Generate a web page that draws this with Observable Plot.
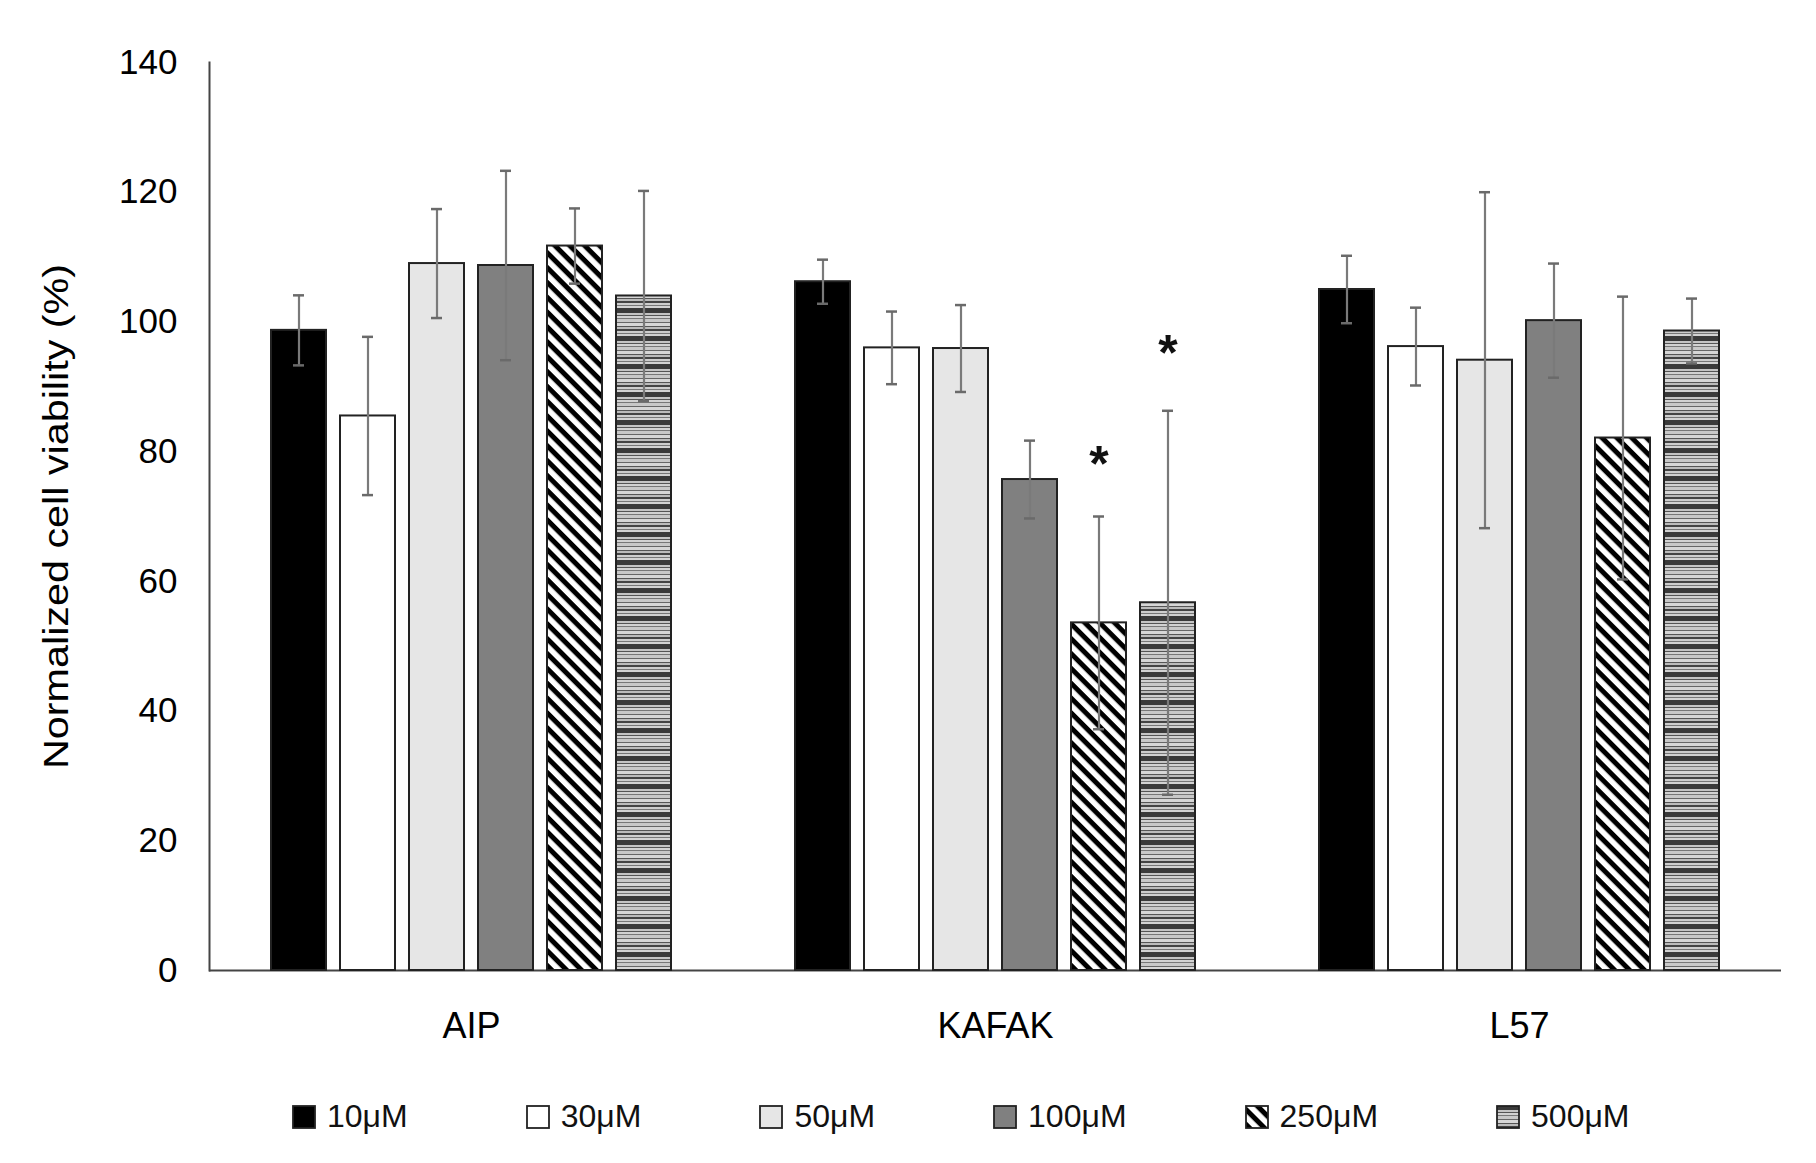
<!DOCTYPE html>
<html>
<head>
<meta charset="utf-8">
<script src="https://cdn.jsdelivr.net/npm/d3@7"></script>
<script src="https://cdn.jsdelivr.net/npm/@observablehq/plot@0.6"></script>
<style>
  body { margin: 0; background: #fff; }
  #wrap { position: relative; width: 1816px; height: 1163px; }
  #chart svg { display: block; }
  #legend { position: absolute; left: 292px; top: 1098px; display: flex; gap: 118px;
            font-family: "Liberation Sans", sans-serif; font-size: 32px; color: #111; }
  #legend .item { display: flex; align-items: center; gap: 11px; }
  #legend svg { display: block; }
</style>
</head>
<body>
<div id="wrap">
  <div id="chart"></div>
  <div id="legend"></div>
</div>
<script>
const cells = ["AIP", "KAFAK", "L57"];
const conc = ["10μM", "30μM", "50μM", "100μM", "250μM", "500μM"];
const fills = ["#000000", "#ffffff", "#e6e6e6", "#808080", "url(#hatch)", "url(#stripes)"];
const yTicks = [0, 20, 40, 60, 80, 100, 120, 140];

// mean values per cell line, in the order of conc
const meanAIP = [98.7, 85.5, 109.0, 108.7, 111.7, 104.0];
const meanKAFAK = [106.2, 96.0, 95.9, 75.7, 53.6, 56.7];
const meanL57 = [105.0, 96.2, 94.1, 100.2, 82.1, 98.6];
// error (+/-)
const errAIP = [5.4, 12.2, 8.4, 14.6, 5.8, 16.2];
const errKAFAK = [3.4, 5.6, 6.7, 6.0, 16.4, 29.6];
const errL57 = [5.2, 6.0, 25.9, 8.8, 21.8, 5.0];
// significance marks
const stars = [
  {cell: "KAFAK", conc: "250μM", y: 79.9},
  {cell: "KAFAK", conc: "500μM", y: 97.1}
];

const means = [meanAIP, meanKAFAK, meanL57];
const errs = [errAIP, errKAFAK, errL57];
const data = cells.flatMap((cell, i) => conc.map((c, j) => ({
  cell, conc: c, value: means[i][j], lo: means[i][j] - errs[i][j], hi: means[i][j] + errs[i][j]
})));

const chart = Plot.plot({
  width: 1816,
  height: 1080,
  marginTop: 62,
  marginBottom: 110,
  marginLeft: 208,
  marginRight: 34,
  style: {fontFamily: "Liberation Sans, sans-serif", color: "#000", background: "#fff"},
  fx: {domain: cells, padding: 0, axis: null},
  x: {domain: conc, paddingInner: 0.205, paddingOuter: 0.86, axis: null},
  y: {domain: [0, 140], axis: null},
  color: {domain: conc, range: fills},
  marks: [
    Plot.ruleY([0], {stroke: "#444", strokeWidth: 2}),
    Plot.frame({anchor: "left", facetAnchor: "left", stroke: "#444", strokeWidth: 2}),
    Plot.barY(data, {fx: "cell", x: "conc", y: "value", fill: "conc", stroke: "#222", strokeWidth: 2}),
    Plot.ruleX(data, {fx: "cell", x: "conc", y1: "lo", y2: "hi", stroke: "#7a7a7a", strokeWidth: 2.2}),
    Plot.tickY(data, {fx: "cell", x: "conc", y: "lo", stroke: "#6a6a6a", strokeWidth: 2.5, insetLeft: 22, insetRight: 22}),
    Plot.tickY(data, {fx: "cell", x: "conc", y: "hi", stroke: "#6a6a6a", strokeWidth: 2.5, insetLeft: 22, insetRight: 22}),
    Plot.text(stars, {fx: "cell", x: "conc", y: "y", text: () => "*", fontSize: 50, fontWeight: "bold", dy: 13, fill: "#111"}),
    Plot.axisY({ticks: yTicks, tickSize: 0, tickPadding: 32, fontSize: 35,
      label: "Normalized cell viability (%)", labelArrow: "none", labelAnchor: "center", labelOffset: 166}),
    Plot.axisFx({anchor: "bottom", tickSize: 0, tickPadding: 42, fontSize: 36, label: null})
  ]
});

// fill patterns for the 250μM and 500μM bars
const defs = d3.select(chart).insert("defs", ":first-child");
const hatch = defs.append("pattern").attr("id", "hatch")
  .attr("patternUnits", "userSpaceOnUse").attr("width", 10.5).attr("height", 10.5)
  .attr("patternTransform", "rotate(45)");
hatch.append("rect").attr("width", 10.5).attr("height", 10.5).attr("fill", "#fff");
hatch.append("rect").attr("width", 10.5).attr("height", 5).attr("fill", "#000");

// irregular grey horizontal lines, like the original 500μM fill
const stripeBands = [
  [0, 5, "#3a3a3a"], [5, 2, "#c4c4c4"], [7, 1, "#555"], [8, 2, "#d2d2d2"],
  [10, 1, "#777"], [11, 3, "#c8c8c8"], [14, 1, "#666"], [15, 3, "#d6d6d6"],
  [18, 1, "#555"], [19, 2, "#bbb"], [21, 2, "#444"], [23, 2, "#cdcdcd"],
  [25, 1, "#777"], [26, 2, "#d2d2d2"]
];
const stripes = defs.append("pattern").attr("id", "stripes")
  .attr("patternUnits", "userSpaceOnUse").attr("width", 8).attr("height", 28);
stripeBands.forEach(([y, h, c]) => {
  stripes.append("rect").attr("y", y).attr("width", 8).attr("height", h).attr("fill", c);
});

// stretch the y label a bit like the original
d3.select(chart).select('[aria-label="y-axis label"] text')
  .attr("textLength", 505).attr("lengthAdjust", "spacingAndGlyphs");

d3.select("#chart").append(() => chart);

// legend
const legend = d3.select("#legend");
conc.forEach((c, i) => {
  const item = legend.append("div").attr("class", "item");
  const sw = item.append("svg").attr("width", 24).attr("height", 24);
  sw.append("rect").attr("x", 1).attr("y", 1).attr("width", 22).attr("height", 22)
    .attr("fill", fills[i]).attr("stroke", "#222").attr("stroke-width", 1.8);
  item.append("span").text(c);
});
</script>
</body>
</html>
